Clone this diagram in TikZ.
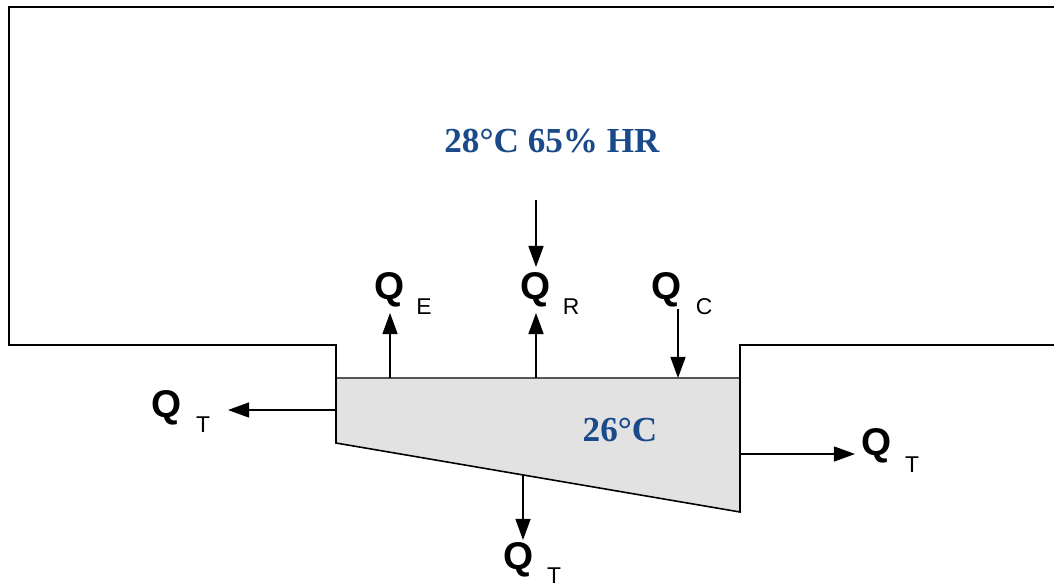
\documentclass[tikz,border=0pt]{standalone}
\usepackage{fontspec}
\setmainfont{Liberation Serif}
\setsansfont{Liberation Sans}
\usepackage{tikz}
\usetikzlibrary{arrows.meta, positioning, calc}
\definecolor{TextBlue}{HTML}{1A4A8A}
\definecolor{PoolGray}{HTML}{E2E2E2}
\definecolor{SurfGray}{HTML}{555555}

\begin{document}
\begin{tikzpicture}[
  wall/.style={draw=black, line width=0.9pt},
  flux/.style={draw=black, line width=1pt, -{Triangle[length=12pt,width=8.5pt]}},
  qname/.style={font=\sffamily\bfseries\fontsize{22}{24}\selectfont, inner sep=3pt},
  qsub/.style={font=\sffamily\fontsize{13}{14}\selectfont, inner sep=0pt},
  temp/.style={font=\bfseries\fontsize{20}{22}\selectfont, text=TextBlue}
]
\useasboundingbox (0,0) rectangle (21.08,11.74);

% Pool water
\fill[PoolGray] (6.72,4.18) -- (14.8,4.18) -- (14.8,1.5) -- (6.72,2.88) -- cycle;
\draw[SurfGray, line width=1.3pt] (6.72,4.18) -- (14.8,4.18);

% Room and pool outline
\draw[wall] (21.08,11.6) -- (0.18,11.6) -- (0.18,4.84) -- (6.72,4.84)
  -- (6.72,2.88) -- (14.8,1.5) -- (14.8,4.84) -- (21.08,4.84);

% Conditions
\node[temp] (air)  at (11.04,8.92) {28°C 65\% HR};
\node[temp] (pool) at (12.4,3.14)  {26°C};

% Heat flux labels
\node[qname] (qE)  at (7.80,5.94)  {Q};
\node[qname] (qR)  at (10.72,5.94) {Q};
\node[qname] (qC)  at (13.34,5.94) {Q};
\node[qname] (qTl) at (3.34,3.58)  {Q};
\node[qname] (qTr) at (17.54,2.82) {Q};
\node[qname] (qTb) at (10.38,0.54) {Q};
\node[qsub] at ([shift={(0.68,-0.34)}]qE.center)  {E};
\node[qsub] at ([shift={(0.70,-0.34)}]qR.center)  {R};
\node[qsub] at ([shift={(0.74,-0.34)}]qC.center)  {C};
\node[qsub] at ([shift={(0.72,-0.34)}]qTl.center) {T};
\node[qsub] at ([shift={(0.70,-0.38)}]qTr.center) {T};
\node[qsub] at ([shift={(0.70,-0.31)}]qTb.center) {T};

% Arrow ends
\coordinate (eBase)  at (7.80,4.18);
\coordinate (rBase)  at (10.72,4.18);
\coordinate (cBase)  at (13.56,4.18);
\coordinate (cTop)   at (13.56,5.56);
\coordinate (airTop) at (10.72,7.74);
\coordinate (wallL)  at (6.72,3.54);
\coordinate (tipL)   at (4.56,3.54);
\coordinate (wallR)  at (14.8,2.66);
\coordinate (tipR)   at (17.10,2.66);
\coordinate (floorP) at (10.46,2.24);
\coordinate (tipB)   at (10.46,0.94);

% Fluxes
\draw[flux] (eBase) -- (qE);
\draw[flux] (rBase) -- (qR);
\draw[flux] (airTop) -- (qR);
\draw[flux] (cTop) -- (cBase);
\draw[flux] (wallL) -- (tipL);
\draw[flux] (wallR) -- (tipR);
\draw[flux] (floorP) -- (tipB);

\end{tikzpicture}
\end{document}
